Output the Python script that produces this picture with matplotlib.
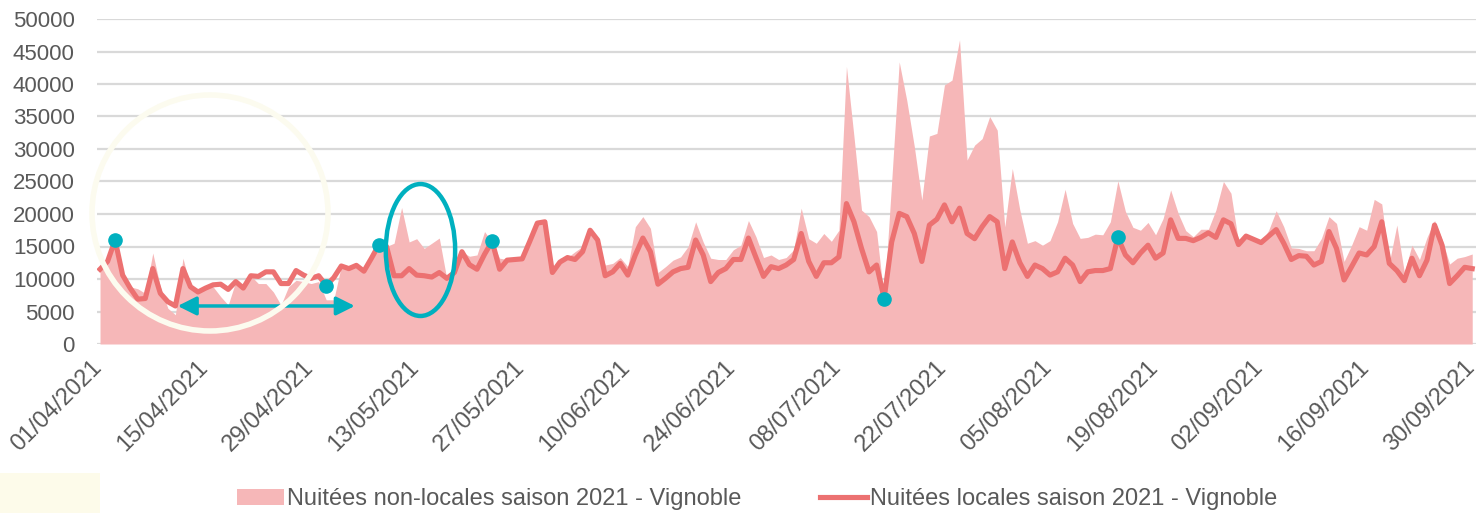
import numpy as np
import pandas as pd
import matplotlib
matplotlib.use("Agg")
import matplotlib.pyplot as plt
from matplotlib.patches import Ellipse, Circle, Rectangle
from matplotlib.transforms import ScaledTranslation

plt.rcParams['font.family'] = ['Liberation Sans', 'DejaVu Sans']

# Nuitées journalières, 01/04/2021 -> 30/09/2021 (183 jours)
dates = pd.date_range('2021-04-01', '2021-09-30', freq='D')

non_locales = [
    11500, 12500, 15500, 10500, 8800, 8500, 7800, 14000, 8800, 5500,
    4500, 13200, 8800, 8000, 8600, 8800, 7300, 6000, 9600, 8600,
    10500, 9300, 9300, 8000, 6000, 8800, 9800, 9600, 9300, 9600,
    6800, 6800, 12000, 11600, 12000, 11200, 13200, 14500, 15000, 15500,
    21000, 15700, 16200, 14700, 15500, 16300, 10000, 11000, 14200, 13500,
    13700, 17300, 15700, 13200, 13000, 13000, 13100, 15800, 18600, 18800,
    11000, 13200, 13300, 14200, 15000, 17500, 16000, 12150, 12400, 13300,
    11900, 18050, 19600, 17800, 11000, 11900, 12900, 13400, 15000, 18800,
    15700, 13200, 13000, 13000, 14500, 15200, 19000, 16500, 13300, 13700,
    13000, 13300, 14500, 20900, 16200, 15500, 17000, 15800, 17500, 42700,
    31900, 20600, 19600, 17300, 7000, 25000, 43400, 37500, 30400, 22150,
    32000, 32400, 39850, 40600, 46800, 28300, 30600, 31600, 35000, 32900,
    18000, 27000, 20600, 15500, 15900, 15200, 15900, 18800, 23800, 18550,
    16250, 16400, 16900, 16800, 18800, 25100, 20400, 17950, 17500, 18700,
    16800, 19300, 23700, 20100, 17450, 16500, 17650, 17650, 20600, 25000,
    23200, 15700, 16800, 16100, 15600, 17500, 20500, 18050, 14800, 14700,
    14350, 14350, 16250, 19600, 18550, 12700, 15200, 18050, 17500, 22250,
    21550, 12500, 18300, 11000, 15200, 13000, 16400, 19000, 16100, 12300,
    13200, 13450, 13850,
]

locales = [
    11500, 12700, 16000, 10600, 8600, 6900, 7000, 11600, 7800, 6500,
    5850, 11600, 8800, 8000, 8600, 9100, 9200, 8400, 9600, 8600,
    10500, 10400, 11100, 11100, 9300, 9300, 11300, 10600, 10100, 10500,
    9000, 10200, 12000, 11600, 12100, 11200, 13200, 15300, 15000, 10500,
    10500, 11600, 10600, 10500, 10300, 11000, 10100, 11000, 14200, 12200,
    11500, 13800, 15800, 11500, 12900, 13000, 13100, 15800, 18600, 18800,
    11000, 12600, 13300, 13000, 14200, 17500, 16000, 10500, 11100, 12400,
    10600, 13700, 16300, 14200, 9200, 10100, 11100, 11600, 11800, 16000,
    13700, 9600, 11000, 11600, 13000, 13000, 16300, 13300, 10400, 11900,
    11600, 12150, 13000, 17000, 12700, 10400, 12500, 12500, 13400, 21600,
    18800, 14700, 11100, 12150, 7000, 15700, 20100, 19600, 17000, 12700,
    18300, 19200, 21400, 18800, 20900, 17000, 16200, 18050, 19600, 18800,
    11600, 15700, 12500, 10400, 12150, 11600, 10600, 11100, 13200, 12150,
    9600, 11100, 11300, 11300, 11600, 16400, 13700, 12500, 14000, 15200,
    13200, 14000, 19100, 16250, 16250, 15900, 16400, 17100, 16400, 19100,
    18500, 15300, 16600, 16100, 15600, 16600, 17600, 15500, 13000, 13600,
    13500, 12150, 12700, 17300, 14700, 9850, 11900, 14000, 13700, 15000,
    18800, 12400, 11300, 9750, 13200, 10500, 12900, 18300, 15200, 9300,
    10500, 11800, 11600,
]

# jours mis en évidence (points turquoise)
jours_marques = [2, 30, 37, 52, 104, 135]

tick_every = 14
y_ticks = list(range(0, 50001, 5000))

col_area = '#F6B7B8'
col_line = '#EC7171'
col_teal = '#00B0BF'
col_text = '#595959'
col_grid = '#D9D9D9'

x = np.arange(len(dates))
non_locales = np.array(non_locales)
locales = np.array(locales)

fig = plt.figure(figsize=(14.76, 5.13), dpi=100)

# filigrane très léger en fond
fig.patches.append(Circle((210, 300), 118, transform=None, fill=False,
                          edgecolor='#FCFBEF', linewidth=4, zorder=0))
fig.patches.append(Rectangle((0, 0), 100, 40, transform=None,
                             facecolor='#FDFBEA', edgecolor='none', zorder=0))

ax = fig.add_axes([97 / 1476, 1 - 344 / 513, 1 - 97 / 1476, 325 / 513])
ax.patch.set_alpha(0)

ax.fill_between(x, 0, non_locales, color=col_area, linewidth=0,
                label='Nuitées non-locales saison 2021 - Vignoble', zorder=2)
ax.plot(x, locales, color=col_line, linewidth=3.7, solid_joinstyle='round',
        label='Nuitées locales saison 2021 - Vignoble', zorder=3)
ax.plot(x[jours_marques], locales[jours_marques], 'o', color=col_teal,
        markersize=9.5, zorder=4)

# flèche double + ellipse
ax.annotate('', xy=(10.3, 5850), xytext=(33.8, 5850),
            arrowprops=dict(arrowstyle='<|-|>', color=col_teal, lw=2.5,
                            mutation_scale=28, shrinkA=0, shrinkB=0), zorder=5)
ax.add_patch(Ellipse((42.5, 14460), 9.2, 20300, fill=False,
                     edgecolor=col_teal, linewidth=3.2, zorder=5))

ax.set_xlim(-0.4, len(dates) - 1 + 0.5)
ax.set_ylim(0, 50000)
ax.set_yticks(y_ticks)
ax.set_yticklabels([str(v) for v in y_ticks])
xt = x[::tick_every]
ax.set_xticks(xt)
ax.set_xticklabels([dates[i].strftime('%d/%m/%Y') for i in xt],
                   rotation=45, ha='right', va='top', rotation_mode='anchor')
ax.tick_params(axis='both', length=0, colors=col_text)
ax.tick_params(axis='y', labelsize=16, pad=16)
ax.tick_params(axis='x', labelsize=17, pad=9)
shift = ScaledTranslation(-9 / 100, 0, fig.dpi_scale_trans)
for lab in ax.get_xticklabels():
    lab.set_transform(lab.get_transform() + shift)
ax.grid(axis='y', color=col_grid, linewidth=1.6, zorder=1)
ax.set_axisbelow(True)
for s in ax.spines.values():
    s.set_visible(False)

fig.legend(loc='center', bbox_to_anchor=(0.513, 0.027), ncol=2, frameon=False,
           fontsize=17, labelcolor=col_text, handlelength=2.0, handletextpad=0.15,
           columnspacing=3.3)

fig.savefig('out.png', dpi=100)
